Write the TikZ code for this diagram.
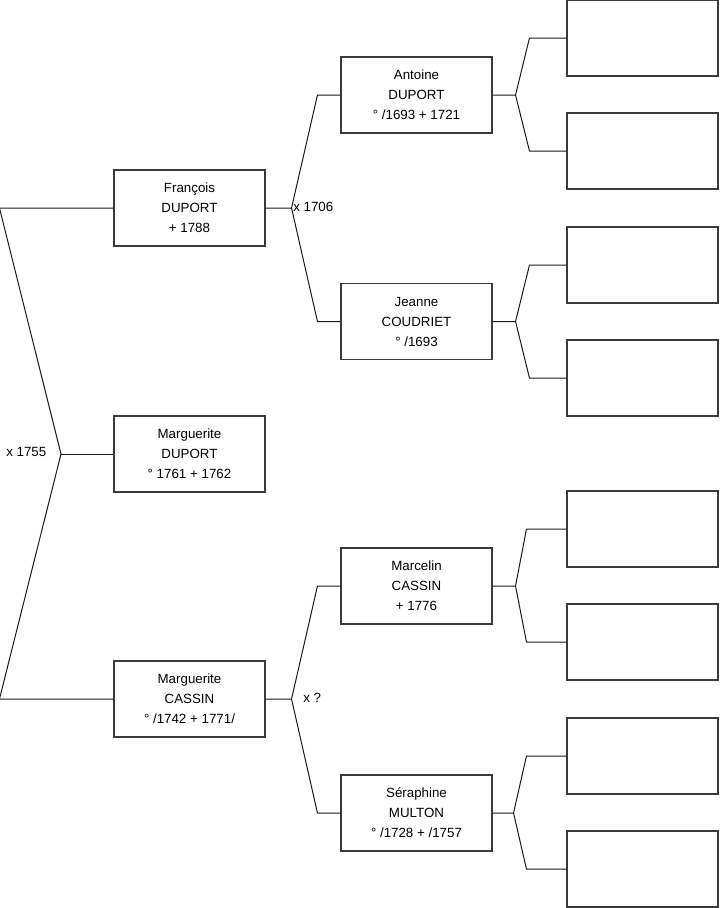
\documentclass[tikz,border=0pt]{standalone}
\usepackage{fontspec}
\setmainfont{Liberation Sans}
\usetikzlibrary{positioning}
\definecolor{pframe}{HTML}{3A3A3A}
\definecolor{pline}{HTML}{1A1A1A}

\begin{document}
\begin{tikzpicture}[
  x=0.75pt, y=-0.75pt,
  person/.style={
    draw=pframe,
    fill=white,
    line width=0.8pt,
    minimum width=113.25pt,
    minimum height=57pt,
    align=center,
    inner sep=0pt,
    font=\fontsize{10}{15}\selectfont
  },
  blank/.style={person},
  link/.style={draw=pline, line width=0.75pt},
  union/.style={anchor=west, inner sep=0pt, font=\fontsize{10}{12}\selectfont}
]
\useasboundingbox (0,0) rectangle (719,908);

% generation 1
\node[person] (francois) at (189.5,208) {François\\DUPORT\\+ 1788};
\node[person] (mduport) at (189.5,454) {Marguerite\\DUPORT\\° 1761 + 1762};
\node[person] (mcassin) at (189.5,699) {Marguerite\\CASSIN\\° /1742 + 1771/};

% generation 2
\node[person] (antoine) at (416.5,95) {Antoine\\DUPORT\\° /1693 + 1721};
\node[person] (jeanne) at (416.5,321.5) {Jeanne\\COUDRIET\\° /1693};
\node[person] (marcelin) at (416.5,586) {Marcelin\\CASSIN\\+ 1776};
\node[person] (seraphine) at (416.5,813) {Séraphine\\MULTON\\° /1728 + /1757};

% generation 3 (empty)
\node[blank] (a1) at (642.5,38) {};
\node[blank] (a2) at (642.5,151) {};
\node[blank] (j1) at (642.5,265) {};
\node[blank] (j2) at (642.5,378) {};
\node[blank] (c1) at (642.5,529) {};
\node[blank] (c2) at (642.5,642) {};
\node[blank] (s1) at (642.5,756) {};
\node[blank] (s2) at (642.5,869) {};

% marriage 1755
\coordinate (m1755) at (61,454);
\draw[link] (francois.west) -- ++(-114,0) -- (m1755) -- ([shift={(-114,0)}]mcassin.west) -- (mcassin.west);
\draw[link] (m1755) -- (mduport.west);
\node[union] (u1755) at (6,452) {x 1755};

% parents of Francois
\draw[link] (francois.east) -- ++(26,0) coordinate (m1706)
  -- ([shift={(-23,0)}]antoine.west) -- (antoine.west);
\draw[link] (m1706) -- ([shift={(-23,0)}]jeanne.west) -- (jeanne.west);
\node[union] (u1706) at (293,207) {x 1706};

% parents of Marguerite Cassin
\draw[link] (mcassin.east) -- ++(26,0) coordinate (mcas)
  -- ([shift={(-23,0)}]marcelin.west) -- (marcelin.west);
\draw[link] (mcas) -- ([shift={(-23,0)}]seraphine.west) -- (seraphine.west);
\node[union] (ucas) at (303,698) {x ?};

% right forks
\draw[link] (antoine.east) -- ++(23,0) coordinate (fa)
  -- ([shift={(-37,0)}]a1.west) -- (a1.west);
\draw[link] (fa) -- ([shift={(-37,0)}]a2.west) -- (a2.west);

\draw[link] (jeanne.east) -- ++(23,0) coordinate (fj)
  -- ([shift={(-37,0)}]j1.west) -- (j1.west);
\draw[link] (fj) -- ([shift={(-37,0)}]j2.west) -- (j2.west);

\draw[link] (marcelin.east) -- ++(23,0) coordinate (fc)
  -- ([shift={(-40,0)}]c1.west) -- (c1.west);
\draw[link] (fc) -- ([shift={(-40,0)}]c2.west) -- (c2.west);

\draw[link] (seraphine.east) -- ++(21,0) coordinate (fs)
  -- ([shift={(-40,0)}]s1.west) -- (s1.west);
\draw[link] (fs) -- ([shift={(-40,0)}]s2.west) -- (s2.west);

\end{tikzpicture}
\end{document}
